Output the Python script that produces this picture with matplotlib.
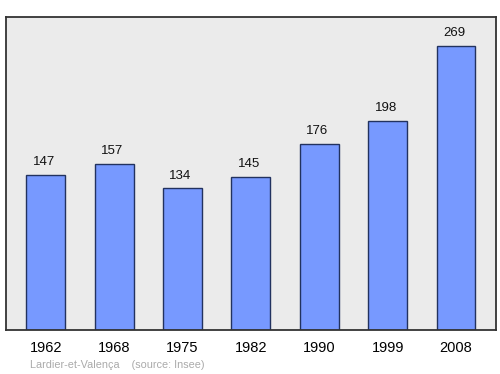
import matplotlib
matplotlib.use("Agg")
import matplotlib.pyplot as plt

years = ["1962", "1968", "1975", "1982", "1990", "1999", "2008"]
population = [147, 157, 134, 145, 176, 198, 269]
footer = "Lardier-et-Valença    (source: Insee)"

plt.rcParams['font.family'] = ['Liberation Sans', 'DejaVu Sans']

fig = plt.figure(figsize=(5, 3.74), dpi=100)
ax = fig.add_axes([0.011, 0.1176, 0.981, 0.837])
ax.set_facecolor('#ebebeb')
x = list(range(len(years)))
ax.bar(x, population, width=0.57, color='#7799ff', edgecolor='#22325f', linewidth=1.0, zorder=2)
for xi, v in zip(x, population):
    ax.text(xi - 0.03, v + 6.5, str(v), ha='center', va='bottom', fontsize=9.5, color='#111111')
ax.set_xlim(-0.59, 6.585)
ax.set_ylim(0, 296.4)
ax.set_yticks([])
ax.set_xticks(x)
ax.set_xticklabels(years, fontsize=10.5)
ax.tick_params(axis='x', length=0, pad=8)
for s in ax.spines.values():
    s.set_color('#333333')
    s.set_linewidth(1.3)
fig.text(0.06, 0.01, footer, fontsize=7.8, color='#aaaaaa', ha='left', va='bottom')
fig.savefig('out.png', dpi=100)
